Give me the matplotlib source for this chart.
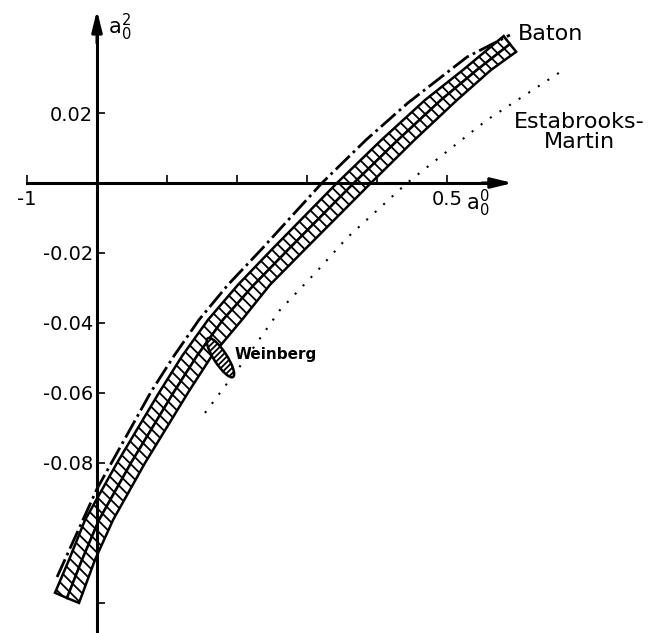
import matplotlib.pyplot as plt
from matplotlib.patches import Ellipse
from matplotlib.transforms import Affine2D

plt.rcParams['mathtext.fontset'] = 'dejavusans'
plt.rcParams['hatch.linewidth'] = 1.3

# hatched band (two strips): upper edge, middle line, lower edge
band_upper_x = [-0.0600, -0.0400, -0.0171, 0.0286, 0.0893, 0.1217, 0.1586, 0.2014, 0.2493,
                0.3429, 0.4064, 0.4686, 0.5229, 0.5811]
band_upper_y = [-0.1171, -0.1077, -0.0963, -0.0800, -0.0597, -0.0494, -0.0391, -0.0291, -0.0191,
                0.0, 0.0123, 0.0237, 0.0323, 0.0420]
band_mid_x = [-0.0429, -0.0214, 0.0029, 0.0486, 0.1100, 0.1429, 0.1800, 0.2243, 0.2729,
              0.3671, 0.4300, 0.4914, 0.5429, 0.5900]
band_mid_y = [-0.1186, -0.1077, -0.0963, -0.0800, -0.0597, -0.0494, -0.0391, -0.0291, -0.0191,
              0.0, 0.0123, 0.0237, 0.0323, 0.0397]
band_lower_x = [-0.0257, -0.0029, 0.0229, 0.0686, 0.1307, 0.1640, 0.2071, 0.2471, 0.2964,
                0.3914, 0.4536, 0.5143, 0.5629, 0.5989]
band_lower_y = [-0.1200, -0.1077, -0.0963, -0.0800, -0.0597, -0.0494, -0.0391, -0.0291, -0.0191,
                0.0, 0.0123, 0.0237, 0.0323, 0.0375]

# Baton (dash-dot)
baton_x = [-0.0571, 0.0, 0.0771, 0.1100, 0.1457, 0.1871, 0.2343, 0.3214, 0.3843, 0.4443, 0.5286, 0.5900]
baton_y = [-0.1126, -0.0874, -0.0597, -0.0494, -0.0391, -0.0291, -0.0191, 0.0, 0.0123, 0.0229, 0.0360, 0.0423]

# Estabrooks-Martin (dotted)
em_x = [0.1543, 0.2143, 0.2614, 0.3157, 0.3571, 0.4429, 0.5571, 0.6686]
em_y = [-0.0657, -0.0497, -0.0363, -0.0249, -0.0157, 0.0, 0.0180, 0.0326]

# Weinberg point (ellipse)
weinberg_center = (0.1764, -0.0499)
weinberg_len = 0.0660
weinberg_wid = 0.0185
weinberg_angle = -57

xticks = [-0.1, 0.1, 0.2, 0.3, 0.4, 0.5]
xticklabels = ['-1', '', '', '', '', '0.5']
yticks = [0.02, -0.02, -0.04, -0.06, -0.08, -0.12]
yticklabels = ['0.02', '-0.02', '-0.04', '-0.06', '-0.08', '']

xmin, xmax = -0.1386, 0.803
ymin, ymax = -0.1286, 0.0523

fig = plt.figure(figsize=(6.59, 6.33), dpi=100)
ax = fig.add_axes([0, 0, 1, 1])
ax.set_xlim(xmin, xmax)
ax.set_ylim(ymin, ymax)

# axes through the origin
ax.spines['top'].set_visible(False)
ax.spines['right'].set_visible(False)
ax.spines['bottom'].set_position(('data', 0))
ax.spines['left'].set_position(('data', 0))
ax.spines['bottom'].set_bounds(-0.1, 0.58)
ax.spines['left'].set_bounds(ymin, 0.045)
ax.spines['bottom'].set_linewidth(2.2)
ax.spines['left'].set_linewidth(2.2)
ax.spines['bottom'].set_zorder(5)
ax.spines['left'].set_zorder(5)

ax.set_xticks(xticks, xticklabels)
ax.set_yticks(yticks, yticklabels)
ax.tick_params(axis='x', direction='in', length=6, width=1.2, labelsize=14, pad=5)
ax.tick_params(axis='y', direction='in', length=6, width=1.2, labelsize=14, pad=3)

arrow = dict(arrowstyle='-|>,head_length=0.9,head_width=0.22', mutation_scale=14,
             lw=2.2, color='black', shrinkA=0, shrinkB=0)
ax.annotate('', xy=(0.594, 0), xytext=(0.55, 0), arrowprops=arrow, zorder=6)
ax.annotate('', xy=(0, 0.0494), xytext=(0, 0.04), arrowprops=arrow, zorder=6)

# band
ax.fill(band_upper_x + band_mid_x[::-1], band_upper_y + band_mid_y[::-1],
        facecolor='white', edgecolor='black', hatch='\\\\\\', lw=1.8, zorder=3)
ax.fill(band_mid_x + band_lower_x[::-1], band_mid_y + band_lower_y[::-1],
        facecolor='white', edgecolor='black', hatch='\\\\\\', lw=1.8, zorder=3)

ax.plot(baton_x, baton_y, color='black', lw=2, linestyle=(0, (7, 1.6, 1, 1.6)), zorder=3)
ax.plot(em_x, em_y, color='black', lw=1.5, linestyle=(0, (1, 4.5)), zorder=3)

# ellipse drawn in a frame where y is stretched so the shape keeps its look
stretch = Affine2D().scale(1, 0.2) + ax.transData
ell = Ellipse((weinberg_center[0], weinberg_center[1] * 5), weinberg_len, weinberg_wid,
              angle=weinberg_angle, facecolor='white', edgecolor='black', lw=1.8,
              hatch='//////', transform=stretch, zorder=4)
ax.add_patch(ell)

ax.text(0.601, 0.0426, 'Baton', fontsize=16, va='center', ha='left')
ax.text(0.689, 0.0146, 'Estabrooks-\nMartin', fontsize=16, va='center', ha='center',
        multialignment='center', linespacing=1.05)
ax.text(0.197, -0.0489, 'Weinberg', fontsize=11, fontweight='bold', va='center', ha='left')
ax.text(0.527, -0.0015, r'$\mathrm{a}_0^0$', fontsize=15, va='top', ha='left')
ax.text(0.0157, 0.0445, r'$\mathrm{a}_0^2$', fontsize=15, va='center', ha='left')

fig.savefig('out.png', dpi=100)
